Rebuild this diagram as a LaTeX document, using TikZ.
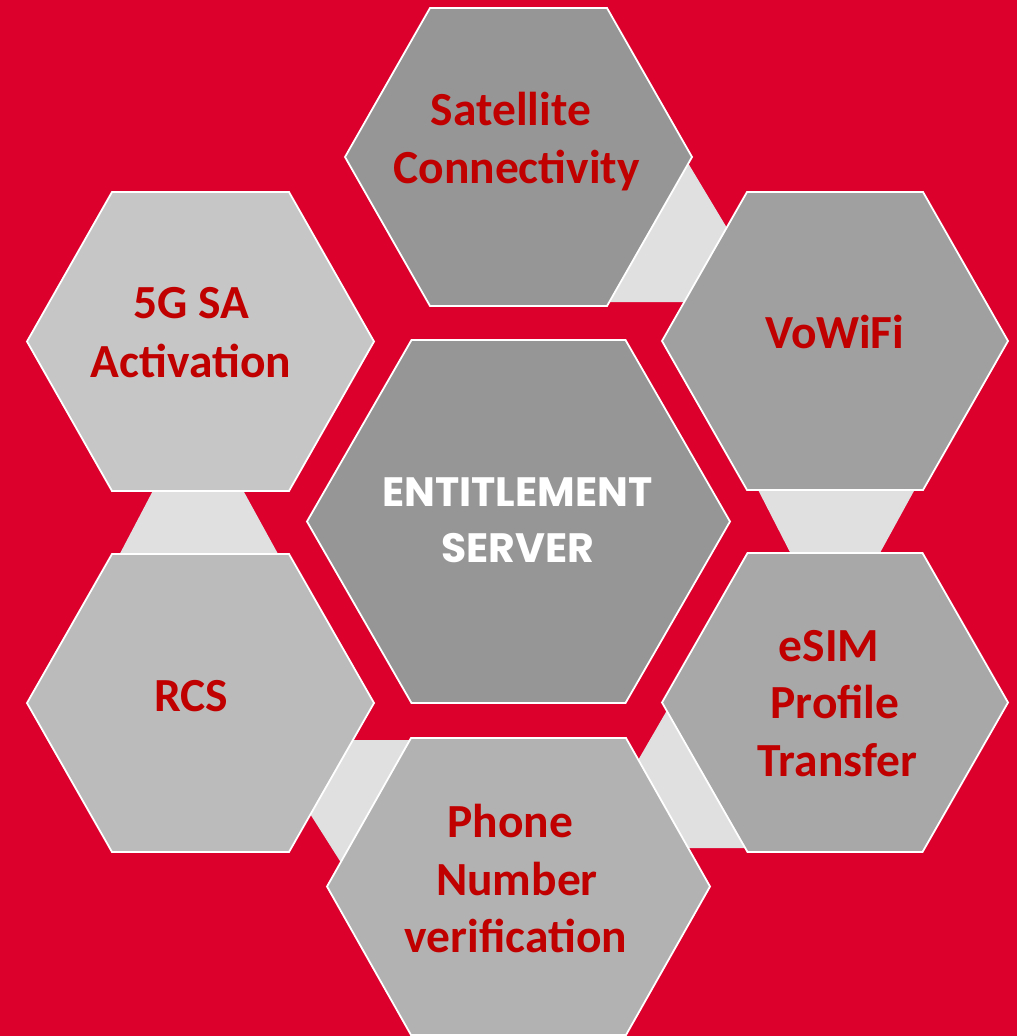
\documentclass[tikz,border=0pt]{standalone}
\usepackage{fontspec}
\newfontfamily\carlfont{Carlito}
\newfontfamily\poppfont{Poppins}
\definecolor{bgred}{RGB}{220,0,45}
\definecolor{txtred}{RGB}{192,0,0}
\definecolor{conngray}{RGB}{224,224,224}
\definecolor{gsat}{RGB}{150,150,150}
\definecolor{gvow}{RGB}{160,160,160}
\definecolor{gesim}{RGB}{168,168,168}
\definecolor{gphone}{RGB}{178,178,178}
\definecolor{grcs}{RGB}{187,187,187}
\definecolor{gfive}{RGB}{198,198,198}
\definecolor{gcenter}{RGB}{150,150,150}
\newcommand\hexcell[6]{%
  \draw[hexline, fill=#6] (#1-#3,#2) -- (#1-#4,#2-#5) -- (#1+#4,#2-#5) -- (#1+#3,#2) -- (#1+#4,#2+#5) -- (#1-#4,#2+#5) -- cycle;}
\begin{document}
\begin{tikzpicture}[x=1pt,y=-1pt,
  hexline/.style={draw=white, line width=1.8pt, line join=miter},
  connshape/.style={fill=conngray, draw=none},
  lbl/.style={anchor=base, inner sep=0pt, text=txtred, font=\carlfont\bfseries\fontsize{47.5}{56}\selectfont},
  ctr/.style={anchor=base, inner sep=0pt, text=white, font=\poppfont\bfseries\fontsize{41}{48}\selectfont}]
\useasboundingbox (0,0) rectangle (1017,1036);
\fill[bgred] (0,0) rectangle (1017,1036);
% connectors
\fill[connshape] (670,133) -- (745,258) -- (700,302) -- (600,302) -- cycle;
\fill[connshape] (753,480) -- (920,480) -- (875,562) -- (795,562) -- cycle;
\fill[connshape] (626,781) -- (677,693) -- (760,848) -- (670,848) -- cycle;
\fill[connshape] (340,740) -- (420,740) -- (352,880) -- (300,798) -- cycle;
\fill[connshape] (158,481) -- (238,481) -- (283,563) -- (115,563) -- cycle;
% hexagons
\hexcell{518.5}{157}{173.5}{88.5}{149}{gsat}
\hexcell{835}{341}{173}{88}{149}{gvow}
\hexcell{835}{702.5}{173}{87.5}{149.5}{gesim}
\hexcell{518.5}{886.5}{191.5}{107.5}{148.5}{gphone}
\hexcell{200.5}{703}{173.5}{88.5}{149}{grcs}
\hexcell{200.5}{341.5}{173.5}{88.5}{149.5}{gfive}
\hexcell{518.5}{521.5}{211.5}{107}{181.5}{gcenter}
% labels
\node[lbl] (sat1) at (511,125) {Satellite};
\node[lbl] (sat2) at (516.5,183) {Connectivity};
\node[lbl] (vow) at (835,348) {VoWiFi};
\node[lbl] (esim1) at (829,661) {eSIM};
\node[lbl] (esim2) at (835,718) {Profile};
\node[lbl] (esim3) at (837.5,776) {Transfer};
\node[lbl] (ph1) at (510.5,837) {Phone};
\node[lbl] (ph2) at (517,895) {Number};
\node[lbl] (ph3) at (516,952) {verification};
\node[lbl] (rcs) at (191,711) {RCS};
\node[lbl] (five1) at (191.5,318) {5G SA};
\node[lbl] (five2) at (191,377) {Activation};
\node[ctr] (es1) at (517.5,506) {ENTITLEMENT};
\node[ctr] (es2) at (518,562) {SERVER};
\end{tikzpicture}
\end{document}
